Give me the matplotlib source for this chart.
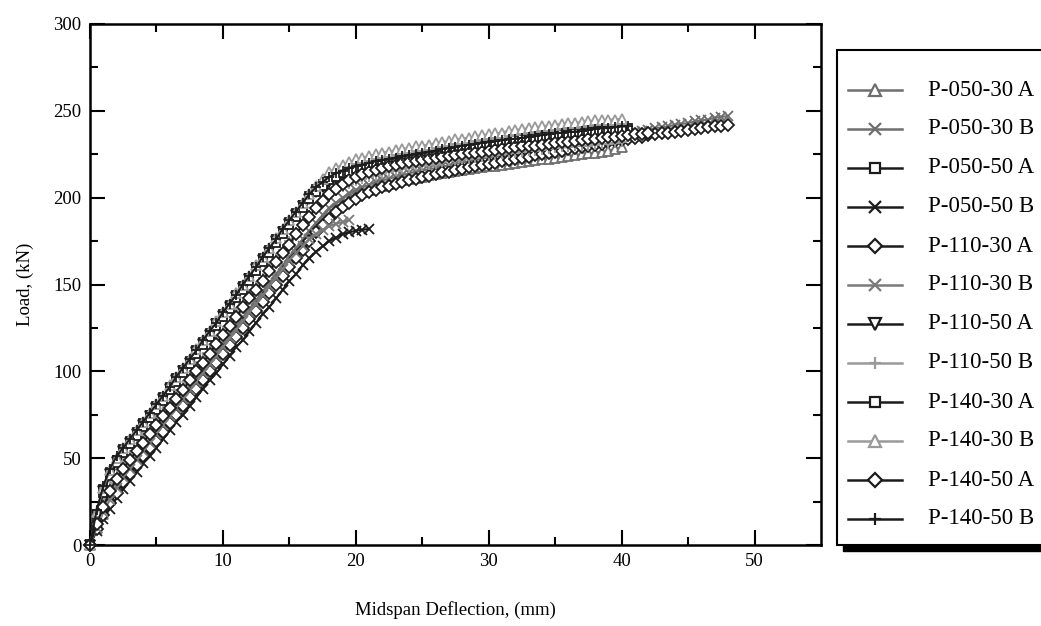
import numpy as np
import matplotlib
matplotlib.use("Agg")
import matplotlib.pyplot as plt
from matplotlib.lines import Line2D
from matplotlib.patches import Rectangle

plt.rcParams['font.family'] = ['Liberation Serif', 'DejaVu Serif']

# Loads (kN) read every STEP mm of midspan deflection
STEP = 0.5

p050_30a = [0, 10, 18, 26, 33, 39, 44, 49, 53, 58,
            63, 68, 73, 78, 83, 88, 93, 98, 103, 108,
            113, 118, 123, 128, 133, 138, 143, 148, 153, 158,
            163, 168, 173, 178, 183, 187, 191, 194, 197, 199.5,
            201.5, 203, 204.5, 206, 207, 208, 209, 210, 211, 211.5,
            212, 213, 213.5, 214, 215, 215.5, 216, 216.5, 217, 217.5,
            218, 218.5, 219, 219.5, 220, 220.5, 221, 221.5, 222, 222.5,
            223, 223.5, 224, 224.5, 225, 225.5, 226, 226.5, 227, 228,
            229]
p050_30b = [0, 11, 20, 28, 35, 41, 46, 51, 56, 61,
            66, 71, 76, 81, 86, 91, 96, 101, 106, 111,
            116, 121, 126, 131, 136, 141, 146, 151, 156, 161,
            166, 171, 176, 181, 185.5, 190, 194, 197, 200, 202.5,
            204.5, 206, 207.5, 209, 210, 211, 212, 213, 214, 215,
            215.5, 216.5, 217, 218, 218.5, 219.5, 220, 221, 221.5, 222.5,
            223, 223.5, 224.5, 225, 226, 226.5, 227, 228, 228.5, 229,
            230, 230.5, 231, 232, 232.5, 233, 234, 234.5, 235, 236,
            236.5, 237, 238, 238.5, 239, 240, 240.5, 241, 242, 242.5,
            243, 244, 244.5, 245, 246, 246.5, 247]
p050_50a = [0, 18, 32, 42, 49, 55, 60, 65, 70, 75,
            80, 85, 91, 96, 101, 106, 112, 117, 122, 128,
            133, 138, 144, 149, 154, 160, 165, 170, 176, 181,
            186, 191, 196, 201, 205, 208, 211, 213, 214.5, 216,
            217, 218, 219, 220, 221, 221.5, 222.5, 223, 223.5, 224.5,
            225, 225.5, 226.5, 227, 227.5, 228.5, 229, 229.5, 230.5, 231,
            231.5, 232, 232.5, 233, 233.5, 234, 234.5, 235, 235.5, 236,
            236.5, 237, 237, 237.5, 238, 238.5, 238.5, 239, 239.5, 239.5,
            240, 240]
p050_50b = [0, 8, 15, 21, 27, 32, 37, 42, 47, 51,
            56, 61, 66, 71, 75, 80, 85, 90, 95, 99,
            104, 109, 114, 118, 123, 128, 133, 137, 142, 147,
            152, 156, 161, 165, 169, 172, 175, 177, 179, 180,
            181, 181.5, 182]
p110_30a = [0, 9, 17, 24, 30, 36, 41, 46, 51, 56,
            60, 65, 70, 75, 80, 85, 90, 95, 100, 105,
            110, 115, 120, 125, 130, 135, 140, 145, 150, 155,
            160, 165, 170, 175, 180, 184, 188, 191.5, 194.5, 197,
            199.5, 201.5, 203, 204.5, 206, 207, 208, 209, 210, 211,
            212, 212.5, 213.5, 214.5, 215, 216, 216.5, 217.5, 218, 219,
            219.5, 220, 221, 221.5, 222.5, 223, 223.5, 224.5, 225, 226,
            226.5, 227, 228, 228.5, 229, 230, 230.5, 231, 232, 232.5,
            233, 234, 234.5, 235, 236, 236.5, 237, 237.5, 238, 238.5,
            239, 239.5, 240, 240.5, 241, 241.5, 242]
p110_30b = [0, 10, 19, 26, 33, 39, 44, 49, 54, 59,
            64, 69, 74, 79, 84, 89, 94, 99, 104, 109,
            114, 119, 124, 129, 134, 139, 144, 149, 154, 159,
            164, 168, 172, 176, 179, 181.5, 183.5, 185, 186, 187]
p110_50a = [0, 17, 31, 41, 48, 54, 59, 64, 69, 74,
            79, 84, 90, 95, 100, 105, 111, 116, 121, 127,
            132, 137, 143, 148, 153, 159, 164, 169, 175, 180,
            185, 190, 195, 199, 203, 206, 209, 211, 213, 214.5,
            215.5, 216.5, 217.5, 218.5, 219.5, 220, 221, 221.5, 222.5, 223,
            223.5, 224.5, 225, 225.5, 226.5, 227, 227.5, 228.5, 229, 229.5,
            230, 230.5, 231, 231.5, 232, 232.5, 233, 233.5, 234, 234.5,
            235, 235.5, 235.5, 236, 236.5, 236.5, 237, 237, 237.5, 237.5,
            238]
p110_50b = [0, 14, 25, 34, 41, 47, 52, 57, 62, 67,
            72, 77, 82, 87, 92, 97, 103, 108, 113, 118,
            123, 128, 134, 139, 144, 149, 154, 160, 165, 170,
            175, 180, 185, 190, 194, 198, 201, 204, 206, 208,
            209.5, 211, 212, 213, 214, 215, 215.5, 216.5, 217, 218,
            218.5, 219, 219.5, 220.5, 221, 221.5, 222, 222.5, 223, 223.5,
            224, 224.5, 225, 225.5, 226, 226.5, 227, 227, 227.5, 228,
            228.5, 229, 229, 229.5, 230, 230, 230.5, 231, 231, 231.5,
            232]
p140_30a = [0, 16, 30, 40, 47, 53, 58, 63, 68, 73,
            78, 83, 89, 94, 99, 104, 110, 115, 120, 126,
            131, 136, 142, 147, 152, 158, 163, 168, 174, 179,
            184, 189, 194, 199, 203, 207, 210, 212, 214, 215,
            216.5, 217.5, 218.5, 219.5, 220, 221, 221.5, 222.5, 223, 224,
            224.5, 225, 226, 226.5, 227, 228, 228.5, 229, 230, 230.5,
            231, 231.5, 232, 232.5, 233, 233.5, 234, 234.5, 235, 235.5,
            236, 236.5, 236.5, 237, 237.5, 238, 238, 238.5, 238.5, 239,
            239]
p140_30b = [0, 19, 33, 43, 50, 56, 61, 66, 71, 76,
            81, 86, 92, 97, 102, 107, 113, 118, 123, 129,
            134, 139, 145, 150, 155, 161, 166, 171, 177, 182,
            187, 192, 197, 202, 207, 211, 215, 217, 219, 220.5,
            222, 223, 224, 225, 226, 226.5, 227.5, 228, 228.5, 229.5,
            230, 230.5, 231.5, 232, 232.5, 233.5, 234, 234.5, 235.5, 236,
            236.5, 237, 237.5, 238.5, 239, 239.5, 240, 240.5, 241, 241.5,
            242, 242.5, 243, 243, 243.5, 244, 244.5, 244.5, 245, 245,
            245.5]
p140_50a = [0, 12, 22, 31, 38, 44, 49, 54, 59, 64,
            69, 74, 79, 84, 89, 95, 100, 105, 110, 116,
            121, 126, 131, 137, 142, 147, 152, 158, 163, 168,
            173, 179, 184, 189, 194, 198, 202, 205, 208, 210,
            212, 213.5, 215, 216, 217, 218, 219, 220, 220.5, 221,
            221.5, 222, 223, 223.5, 224, 224.5, 225, 225.5, 226, 226.5,
            227, 227.5, 228, 228.5, 229, 229.5, 230, 230, 230.5, 231,
            231.5, 232, 232, 232.5, 233, 233.5, 234, 234.5, 235, 235,
            235.5, 236, 236.5, 236.5, 237]
p140_50b = [0, 20, 34, 44, 51, 56, 61, 66, 71, 76,
            81, 86, 91, 97, 102, 107, 112, 118, 123, 128,
            134, 139, 144, 150, 155, 160, 166, 171, 176, 182,
            187, 192, 197, 202, 206, 209, 212, 214, 215.5, 217,
            218, 219, 220, 221, 221.5, 222.5, 223, 224, 224.5, 225,
            226, 226.5, 227, 228, 228.5, 229, 230, 230.5, 231, 231.5,
            232, 232.5, 233, 233.5, 234, 234.5, 235, 235.5, 236, 236.5,
            237, 237.5, 238, 238, 238.5, 239, 239.5, 240, 240, 240.5,
            241, 241]

specimens = ["P-050-30 A", "P-050-30 B", "P-050-50 A", "P-050-50 B",
             "P-110-30 A", "P-110-30 B", "P-110-50 A", "P-110-50 B",
             "P-140-30 A", "P-140-30 B", "P-140-50 A", "P-140-50 B"]
loads = [p050_30a, p050_30b, p050_50a, p050_50b,
         p110_30a, p110_30b, p110_50a, p110_50b,
         p140_30a, p140_30b, p140_50a, p140_50b]

DARK = "#1c1c1c"
GREY = "#6e6e6e"
LIGHT = "#9a9a9a"
styles = [
    (GREY, "^", 6.5), (GREY, "x", 6.5), (DARK, "s", 6.0), (DARK, "x", 6.5),
    (DARK, "D", 6.0), ("#7a7a7a", "x", 6.5), (DARK, "v", 6.5), (LIGHT, "+", 7.5),
    (DARK, "s", 6.0), (LIGHT, "^", 6.5), (DARK, "D", 6.0), (DARK, "+", 7.5),
]

W, H = 1041, 626
fig = plt.figure(figsize=(W / 100, H / 100), dpi=100)
ax = fig.add_axes([90 / W, 1 - 545 / H, (821 - 90) / W, (545 - 24) / H])

for y, (col, mk, ms) in zip(loads, styles):
    x = np.arange(len(y)) * STEP
    ax.plot(x, y, color=col, lw=1.5, marker=mk, ms=ms, mec=col, mfc="white",
            mew=1.3, clip_on=False, zorder=3)

ax.set_xlim(0, 55)
ax.set_ylim(0, 300)
ax.set_xticks([0, 10, 20, 30, 40, 50])
ax.set_xticks([5, 15, 25, 35, 45], minor=True)
ax.set_yticks(np.arange(0, 301, 50))
ax.set_yticks(np.arange(25, 300, 50), minor=True)
ax.tick_params(which="both", direction="in", top=True, right=True,
               width=1.5, labelsize=13.5, colors="black")
ax.tick_params(which="major", length=11, pad=6)
ax.tick_params(which="minor", length=6)
for s in ax.spines.values():
    s.set_linewidth(1.8)

ax.set_xlabel("Midspan Deflection, (mm)", fontsize=13.5, labelpad=22)
ax.set_ylabel("Load, (kN)", fontsize=13.5, labelpad=14)

# Legend panel to the right of the axes, with a solid drop shadow
box_l, box_t, box_b = 837, 50, 545
shadow_dx, shadow_dy = 6, 6
fig.patches.append(Rectangle(((box_l + shadow_dx) / W, 1 - (box_b + shadow_dy) / H),
                             400 / W, (box_b - box_t) / H,
                             transform=fig.transFigure, facecolor="black",
                             edgecolor="black", lw=1, zorder=1))
fig.patches.append(Rectangle((box_l / W, 1 - box_b / H), 400 / W,
                             (box_b - box_t) / H, transform=fig.transFigure,
                             facecolor="white", edgecolor="black", lw=1.5,
                             zorder=2))
row0, row_gap = 90, 39
for i, (name, (col, mk, ms)) in enumerate(zip(specimens, styles)):
    yy = 1 - (row0 + i * row_gap) / H
    fig.add_artist(Line2D([848 / W, 902 / W], [yy, yy], transform=fig.transFigure,
                          color=col, lw=1.8, zorder=3))
    fig.add_artist(Line2D([875 / W], [yy], transform=fig.transFigure,
                          color=col, marker=mk, ms=ms + 1.5, mec=col,
                          mfc="white", mew=1.6, zorder=4))
    fig.text(928 / W, yy, name, fontsize=16.5, va="center", ha="left", zorder=5)

fig.savefig("out.png", dpi=100)
